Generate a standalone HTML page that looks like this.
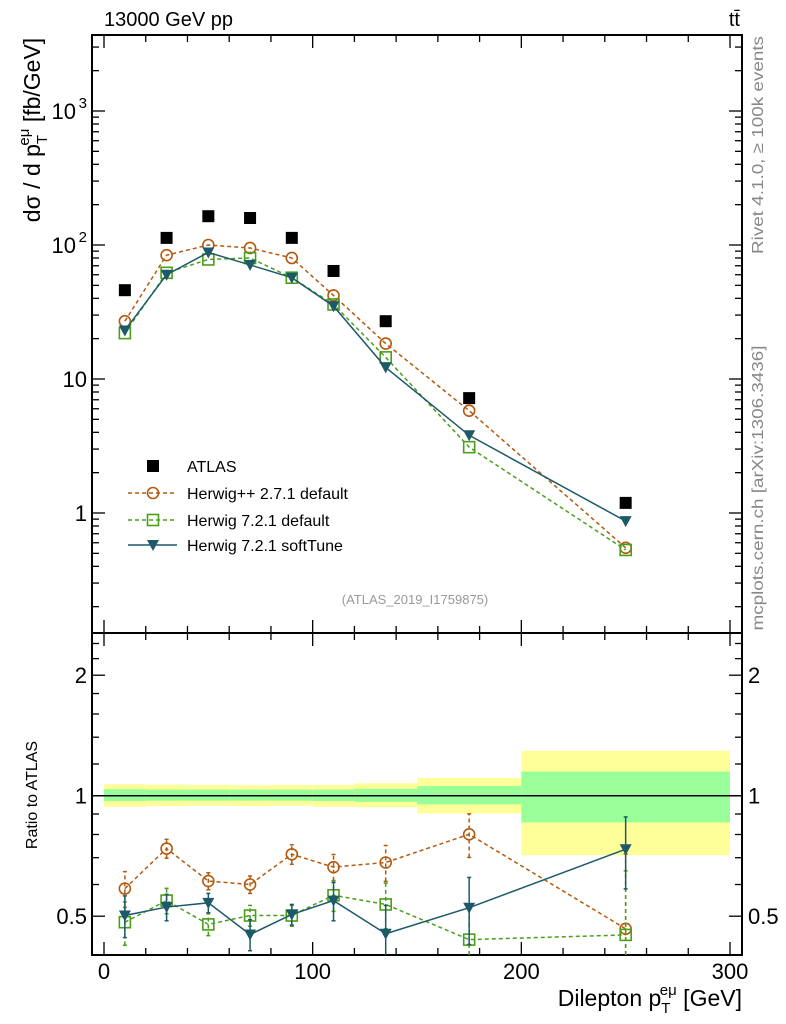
<!DOCTYPE html>
<html><head><meta charset="utf-8"><style>
body{margin:0;background:#fff;}
svg{display:block;font-family:"Liberation Sans",sans-serif;}
</style></head><body>
<svg id="c" width="786" height="1024" viewBox="0 0 786 1024"></svg>
<script>
const bins=[0,20,40,60,80,100,120,150,200,300];
const xs=[10,30,50,70,90,110,135,175,250];
const dataVals=[46,113,164,159,113,64,27,7.2,1.19];
const hppVals=[27,84,100,95,80,42,18.4,5.8,0.55];
const h7Vals=[22,62,78,80,57,36,14.5,3.1,0.53];
const softVals=[23,60,88,71,57,35,12.2,3.8,0.87];
const hppRatio=[0.586,0.738,0.612,0.600,0.714,0.663,0.681,0.801,0.465];
const hppErr=[0.06,0.04,0.03,0.03,0.04,0.05,0.07,0.10,0.25];
const h7Ratio=[0.483,0.547,0.477,0.502,0.502,0.564,0.535,0.437,0.449];
const h7Err=[0.06,0.04,0.03,0.03,0.03,0.05,0.07,0.1,0.2];
const softRatio=[0.502,0.527,0.540,0.450,0.505,0.547,0.452,0.525,0.735];
const softErr=[0.06,0.04,0.03,0.04,0.03,0.06,0.08,0.1,0.15];
const yelHi=[1.068,1.066,1.064,1.062,1.064,1.064,1.074,1.107,1.295];
const yelLo=[0.938,0.942,0.944,0.942,0.944,0.938,0.935,0.903,0.71];
const grnHi=[1.038,1.036,1.036,1.036,1.036,1.036,1.04,1.057,1.149];
const grnLo=[0.97,0.972,0.972,0.972,0.972,0.97,0.965,0.951,0.858];
const xTicks=[0,100,200,300];

const NS="http://www.w3.org/2000/svg";
const svg=document.getElementById('c');
function el(t,a,p){const e=document.createElementNS(NS,t);for(const k in a)e.setAttribute(k,a[k]);(p||svg).appendChild(e);return e;}
const L=92,R=742,T=35,M=633,B=955;
const X=v=>104+v*(730-104)/300;
const Y=v=>513-134*Math.log10(v);
const YR=v=>795.7-120.5*Math.log2(v);
const C1="#b35a0f",C2="#4a9e1a",C3="#1c5a6a";

const gb=el('g',{});

for(let i=0;i<xs.length;i++){
  const x0=X(bins[i]),x1=X(bins[i+1]);
  const r1=el('rect',{x:x0,y:YR(yelHi[i]),width:x1-x0,height:YR(yelLo[i])-YR(yelHi[i]),fill:"#ffff99"},gb);
  
  const r2=el('rect',{x:x0,y:YR(grnHi[i]),width:x1-x0,height:YR(grnLo[i])-YR(grnHi[i]),fill:"#99ff99"},gb);
  
}
el('line',{x1:L,x2:R,y1:YR(1),y2:YR(1),stroke:"#000","stroke-width":1.5});

for(const [a,b] of [[T,M],[M,B]]){
  const f=el('rect',{x:L,y:a,width:R-L,height:b-a,fill:"none",stroke:"#000","stroke-width":2});
  
}
for(let v=0;v<=300;v+=20){
  const big=v%100==0,len=big?13:7;
  for(const [yb,yt] of [[M,T],[B,M]]){
    el('line',{x1:X(v),x2:X(v),y1:yb,y2:yb-len,stroke:"#000","stroke-width":1.3});
    el('line',{x1:X(v),x2:X(v),y1:yt,y2:yt+len,stroke:"#000","stroke-width":1.3});
  }
}
xTicks.forEach(v=>{const t=el('text',{x:X(v),y:979,"font-size":22,"text-anchor":"middle"});t.textContent=v;
});
for(let d=-1;d<=3;d++){for(let m=1;m<10;m++){const v=m*Math.pow(10,d);const y=Y(v);if(y<T||y>M)continue;
 const len=m==1?13:7;
 el('line',{x1:L,x2:L+len,y1:y,y2:y,stroke:"#000","stroke-width":1.3});
 el('line',{x1:R,x2:R-len,y1:y,y2:y,stroke:"#000","stroke-width":1.3});}}
[[1000,"10","3"],[100,"10","2"],[10,"10",""],[1,"1",""]].forEach(([v,b,e])=>{
 const t=el('text',{x:e?76:87,y:Y(v)+8,"font-size":22,"text-anchor":"end"});t.textContent=b;
 
 if(e){const s=el('text',{x:87,y:Y(v)-3,"font-size":15,"text-anchor":"end"});s.textContent=e;}
});
const rt=[0.4,0.5,0.6,0.7,0.8,0.9,1,1.2,1.4,1.6,1.8,2,2.2,2.4];
rt.forEach(v=>{const y=YR(v);const big=(v==0.5||v==1||v==2);const len=big?13:7;
 el('line',{x1:L,x2:L+len,y1:y,y2:y,stroke:"#000","stroke-width":1.3});
 el('line',{x1:R,x2:R-len,y1:y,y2:y,stroke:"#000","stroke-width":1.3});});
[[2,"2"],[1,"1"],[0.5,"0.5"]].forEach(([v,s])=>{
 const t=el('text',{x:87,y:YR(v)+8,"font-size":22,"text-anchor":"end"});t.textContent=s;
 
 const t2=el('text',{x:748,y:YR(v)+8,"font-size":22});t2.textContent=s;
 });

function marker(kind,x,y,col,g){
 if(kind=='o')el('circle',{cx:x,cy:y,r:5.5,fill:"none",stroke:col,"stroke-width":1.6},g);
 else if(kind=='s')el('rect',{x:x-5.5,y:y-5.5,width:11,height:11,fill:"none",stroke:col,"stroke-width":1.6},g);
 else if(kind=='t')el('path',{d:`M${x-6},${y-5}L${x+6},${y-5}L${x},${y+6}Z`,fill:col},g);
 else el('rect',{x:x-6,y:y-6,width:12,height:12,fill:col},g);
}
function series(name,vals,col,kind,dash,yf,errs){
 const g=el('g',{});
 
 const pts=xs.map((x,i)=>[X(x),yf(vals[i])]);
 if(errs) xs.forEach((x,i)=>{const y0=yf(Math.max(vals[i]-errs[i],0.3)),y1=yf(vals[i]+errs[i]);
   el('line',{x1:X(x),x2:X(x),y1:Math.min(y0,B),y2:y1,stroke:col,"stroke-width":1.5,"stroke-dasharray":dash?"4,3":""},g);
   el('line',{x1:X(x)-2,x2:X(x)+2,y1:y1,y2:y1,stroke:col,"stroke-width":1.5},g);
   if(y0<B)el('line',{x1:X(x)-2,x2:X(x)+2,y1:y0,y2:y0,stroke:col,"stroke-width":1.5},g);});
 el('polyline',{points:pts.map(p=>p.join(',')).join(' '),fill:"none",stroke:col,"stroke-width":1.5,"stroke-dasharray":dash?"4,3":""},g);
 pts.forEach(p=>marker(kind,p[0],p[1],col,g));
}
series('herwigpp-main',hppVals,C1,'o',true,Y);
series('herwig7-default-main',h7Vals,C2,'s',true,Y);
series('herwig7-softtune-main',softVals,C3,'t',false,Y);
const dg=el('g',{});
xs.forEach((x,i)=>marker('d',X(x),Y(dataVals[i]),"#000",dg));
series('herwigpp-ratio',hppRatio,C1,'o',true,YR,hppErr);
series('herwig7-default-ratio',h7Ratio,C2,'s',true,YR,h7Err);
series('herwig7-softtune-ratio',softRatio,C3,'t',false,YR,softErr);

const lg=el('g',{});
const leg=[["d","#000",false,"ATLAS",466,false],["o",C1,true,"Herwig++ 2.7.1 default",493,true],["s",C2,true,"Herwig 7.2.1 default",520,true],["t",C3,false,"Herwig 7.2.1 softTune",545,true]];
leg.forEach(([k,c,d,txt,y,line])=>{
 if(line)el('line',{x1:128,x2:177,y1:y,y2:y,stroke:c,"stroke-width":1.5,"stroke-dasharray":d?"4,3":""},lg);
 marker(k,153,y,c,lg);
 const t=el('text',{x:187,y:y+6,"font-size":16},lg);t.textContent=txt;
 
});
function txt(s,a,name){const t=el('text',a);t.textContent=s;return t;}
txt("(ATLAS_2019_I1759875)",{x:415,y:604,"font-size":13,fill:"#999","text-anchor":"middle"},'analysis-id');
txt("13000 GeV pp",{x:104,y:26,"font-size":20},'beam-label');
txt("tt̄",{x:740,y:26,"font-size":20,"text-anchor":"end"},'process-label');
txt("Rivet 4.1.0, ≥ 100k events",{x:0,y:0,"font-size":16,fill:"#888","text-anchor":"middle",textLength:218,lengthAdjust:"spacingAndGlyphs",transform:"translate(763,145) rotate(-90)"},'rivet-label');
txt("mcplots.cern.ch [arXiv:1306.3436]",{x:0,y:0,"font-size":16,fill:"#888","text-anchor":"middle",textLength:285,lengthAdjust:"spacingAndGlyphs",transform:"translate(763,488) rotate(-90)"},'mcplots-label');
const yl=txt("",{x:0,y:0,"font-size":23,"text-anchor":"middle",transform:"translate(40,130) rotate(-90)"},'y-axis-title');
yl.innerHTML='dσ / d p<tspan dy="7" font-size="15">T</tspan><tspan dy="-18" dx="-9" font-size="15">eμ</tspan><tspan dy="11"> [fb/GeV]</tspan>';
txt("Ratio to ATLAS",{x:0,y:0,"font-size":16,"text-anchor":"middle",transform:"translate(37,795) rotate(-90)"},'ratio-axis-title');
const xl=txt("",{x:742,y:1006,"font-size":23,"text-anchor":"end"},'x-axis-title');
xl.innerHTML='Dilepton p<tspan dy="7" font-size="15">T</tspan><tspan dy="-18" dx="-9" font-size="15">eμ</tspan><tspan dy="11">  [GeV]</tspan>';
</script>
</body></html>
